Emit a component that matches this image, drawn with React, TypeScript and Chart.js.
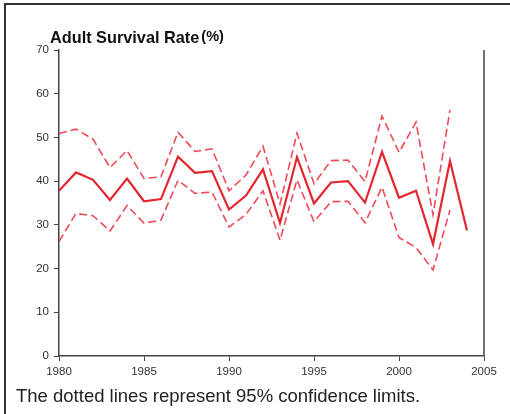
import React, { useEffect, useRef } from "react";
import { Chart, registerables } from "chart.js";

Chart.register(...registerables);

const years = [1980, 1981, 1982, 1983, 1984, 1985, 1986, 1987, 1988, 1989, 1990, 1991, 1992, 1993, 1994, 1995, 1996, 1997, 1998, 1999, 2000, 2001, 2002, 2003, 2004];
const survival = [37.8, 42.0, 40.3, 35.7, 40.6, 35.4, 35.9, 45.6, 41.9, 42.3, 33.5, 36.7, 42.7, 30.4, 45.5, 34.9, 39.7, 40.0, 35.1, 46.7, 36.2, 37.8, 25.6, 44.6, 28.7];
const upperCI = [50.9, 51.9, 49.6, 43.1, 47.0, 40.6, 41.0, 51.2, 46.8, 47.4, 37.8, 41.4, 48.0, 34.8, 51.0, 39.4, 44.7, 44.8, 39.9, 54.9, 46.6, 53.5, 32.3, 56.3, null];
const lowerCI = [26.2, 32.6, 32.1, 28.6, 34.4, 30.4, 31.1, 40.2, 37.2, 37.5, 29.5, 32.4, 37.8, 26.5, 40.3, 30.7, 35.3, 35.4, 30.5, 38.6, 27.1, 24.8, 19.7, 33.4, null];
const xTicks = [1980, 1985, 1990, 1995, 2000, 2005];
const yTicks = [0, 10, 20, 30, 40, 50, 60, 70];
const titleText = "Adult Survival Rate";
const unitText = "(%)";
const footerText = "The dotted lines represent 95% confidence limits.";

const toPoints = (vals: (number | null)[]) =>
  years.map((y, i) => ({ x: y, y: vals[i] })).filter((p) => p.y !== null);

const rightLinePlugin = {
  id: "rightLine",
  afterDraw(chart: any) {
    const { ctx, chartArea } = chart;
    ctx.save();
    ctx.strokeStyle = "#444";
    ctx.lineWidth = 1.5;
    ctx.beginPath();
    ctx.moveTo(chartArea.right, chartArea.top);
    ctx.lineTo(chartArea.right, chartArea.bottom);
    ctx.stroke();
    ctx.restore();
  },
};

export default function App() {
  const ref = useRef<HTMLCanvasElement>(null);
  useEffect(() => {
    document.body.style.margin = "0";
    const chart = new Chart(ref.current!, {
      type: "line",
      data: {
        datasets: [
          {
            label: "Upper 95% CL",
            data: toPoints(upperCI),
            borderColor: "#ee4a57",
            borderWidth: 1.6,
            borderDash: [8, 4],
            pointRadius: 0,
            fill: false,
            tension: 0,
          },
          {
            label: "Lower 95% CL",
            data: toPoints(lowerCI),
            borderColor: "#ee4a57",
            borderWidth: 1.6,
            borderDash: [8, 4],
            pointRadius: 0,
            fill: false,
            tension: 0,
          },
          {
            label: "Adult Survival Rate",
            data: toPoints(survival),
            borderColor: "#e3262f",
            borderWidth: 2.2,
            pointRadius: 0,
            fill: false,
            tension: 0,
          },
        ],
      },
      options: {
        animation: false,
        responsive: false,
        maintainAspectRatio: false,
        layout: { padding: { left: 0, right: 26, top: 50, bottom: 0 } },
        plugins: { legend: { display: false }, tooltip: { enabled: false }, title: { display: false } },
        scales: {
          x: {
            type: "linear",
            min: 1980,
            max: 2005,
            afterBuildTicks: (axis: any) => {
              axis.ticks = xTicks.map((v) => ({ value: v }));
            },
            afterFit: (axis: any) => {
              axis.height = 58;
            },
            grid: { drawOnChartArea: false, drawTicks: true, tickLength: 5, color: "#444" },
            border: { display: true, color: "#444", width: 1.5 },
            ticks: {
              color: "#333",
              font: { family: "Liberation Sans, Arial, sans-serif", size: 11.5 },
              padding: 4,
              maxRotation: 0,
              callback: (v: any) => String(v),
            },
          },
          y: {
            min: 0,
            max: 70,
            afterBuildTicks: (axis: any) => {
              axis.ticks = yTicks.map((v) => ({ value: v }));
            },
            afterFit: (axis: any) => {
              axis.width = 59;
            },
            grid: { drawOnChartArea: false, drawTicks: true, tickLength: 5, color: "#444" },
            border: { display: true, color: "#444", width: 1.5 },
            ticks: {
              color: "#333",
              font: { family: "Liberation Sans, Arial, sans-serif", size: 11.5 },
              padding: 5,
            },
          },
        },
      },
      plugins: [rightLinePlugin],
    });
    return () => chart.destroy();
  }, []);

  return (
    <div style={{ position: "relative", width: 510, height: 414, background: "#fff", overflow: "hidden" }}>
      <div style={{ position: "absolute", left: 4, top: 3, width: 506, height: 411, borderTop: "2px solid #333", borderLeft: "2px solid #333" }} />
      <canvas ref={ref} width={510} height={414} style={{ position: "absolute", left: 0, top: 0 }} />
      <div
        style={{
          position: "absolute",
          left: 50,
          top: 27,
          fontFamily: "Liberation Sans, Arial, sans-serif",
          fontWeight: "bold",
          fontSize: 16.3,
          color: "#111",
          whiteSpace: "nowrap",
          lineHeight: "20px",
        }}
      >
        {titleText}
        <span style={{ fontSize: 14.5, marginLeft: 2, position: "relative", top: -2 }}>{unitText}</span>
      </div>
      <div
        style={{
          position: "absolute",
          left: 16,
          top: 385.5,
          fontFamily: "Liberation Sans, Arial, sans-serif",
          fontSize: 18.5,
          color: "#222",
          whiteSpace: "nowrap",
          lineHeight: "20px",
        }}
      >
        {footerText}
      </div>
    </div>
  );
}
